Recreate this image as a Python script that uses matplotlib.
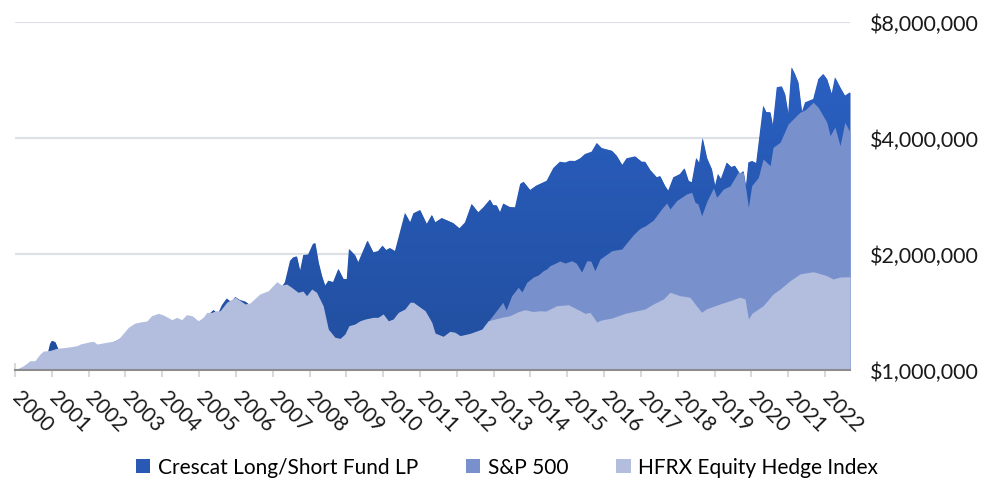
import matplotlib.pyplot as plt
import numpy as np
from matplotlib.patches import Patch
from matplotlib.colors import LinearSegmentedColormap
from matplotlib.ticker import NullLocator

plt.rcParams['font.family'] = ['Lato', 'DejaVu Sans']

# growth of $1,000,000 (values in $ millions), x in decimal years
crescat_x = [2000.00, 2000.08, 2000.27, 2000.49, 2000.68, 2000.84, 2000.95, 2001.00, 2001.09, 2001.17,
             2001.28, 2001.49, 2002.31, 2003.12, 2003.94, 2004.75, 2005.16, 2005.30, 2005.39, 2005.51,
             2005.62, 2005.75, 2005.87, 2005.98, 2006.11, 2006.25, 2006.38, 2006.65, 2006.93, 2007.20,
             2007.33, 2007.47, 2007.55, 2007.65, 2007.74, 2007.83, 2007.96, 2008.09, 2008.15, 2008.24,
             2008.33, 2008.42, 2008.51, 2008.64, 2008.78, 2008.92, 2009.01, 2009.07, 2009.23, 2009.32,
             2009.57, 2009.73, 2009.86, 2009.98, 2010.08, 2010.18, 2010.32, 2010.59, 2010.73, 2010.82,
             2011.00, 2011.18, 2011.32, 2011.41, 2011.59, 2011.90, 2012.07, 2012.22, 2012.40, 2012.58,
             2012.72, 2012.90, 2012.98, 2013.08, 2013.17, 2013.26, 2013.44, 2013.58, 2013.72, 2013.81,
             2013.99, 2014.15, 2014.35, 2014.44, 2014.62, 2014.80, 2014.94, 2015.07, 2015.21, 2015.35,
             2015.48, 2015.66, 2015.80, 2015.93, 2016.21, 2016.34, 2016.49, 2016.61, 2016.84, 2017.02,
             2017.11, 2017.25, 2017.43, 2017.52, 2017.65, 2017.74, 2017.88, 2018.06, 2018.18, 2018.29,
             2018.38, 2018.50, 2018.58, 2018.67, 2018.79, 2018.92, 2019.01, 2019.09, 2019.17, 2019.33,
             2019.45, 2019.55, 2019.69, 2019.78, 2019.85, 2019.92, 2020.02, 2020.13, 2020.32, 2020.40,
             2020.51, 2020.58, 2020.69, 2020.82, 2020.91, 2021.00, 2021.09, 2021.18, 2021.27, 2021.37,
             2021.46, 2021.68, 2021.82, 2021.95, 2022.05, 2022.18, 2022.27, 2022.41, 2022.54, 2022.68]
crescat_v = [1.000, 0.988, 0.982, 0.988, 1.006, 1.055, 1.168, 1.191, 1.182, 1.134,
             1.094, 1.120, 1.134, 1.240, 1.316, 1.316, 1.340, 1.405, 1.431, 1.398,
             1.474, 1.533, 1.501, 1.547, 1.519, 1.506, 1.474, 1.528, 1.584, 1.622,
             1.689, 1.921, 1.959, 1.973, 1.807, 1.988, 1.994, 2.123, 2.136, 1.903,
             1.757, 1.655, 1.705, 1.692, 1.829, 1.722, 1.722, 2.061, 1.988, 1.903,
             2.166, 2.020, 2.036, 2.102, 2.048, 2.073, 2.036, 2.555, 2.417, 2.551,
             2.601, 2.393, 2.525, 2.417, 2.480, 2.407, 2.332, 2.414, 2.697, 2.566,
             2.644, 2.770, 2.680, 2.675, 2.566, 2.704, 2.648, 2.644, 3.039, 3.080,
             2.932, 3.008, 3.070, 3.099, 3.343, 3.472, 3.455, 3.492, 3.487, 3.543,
             3.635, 3.686, 3.883, 3.768, 3.708, 3.599, 3.404, 3.543, 3.585, 3.472,
             3.472, 3.304, 3.163, 3.187, 3.008, 2.920, 3.163, 3.226, 3.338, 3.099,
             3.070, 3.550, 3.445, 4.000, 3.550, 3.324, 3.003, 3.226, 3.131, 3.455,
             3.364, 3.390, 3.226, 3.284, 2.985, 3.459, 3.487, 3.445, 4.850, 4.673,
             4.666, 4.305, 5.416, 5.449, 5.202, 4.618, 6.102, 5.864, 5.579, 4.666,
             4.951, 5.050, 5.692, 5.864, 5.692, 5.202, 5.749, 5.416, 5.151, 5.258]

sp500_x = [2000.00, 2000.50, 2001.00, 2001.70, 2002.50, 2002.80, 2003.50, 2004.00, 2005.00, 2006.00,
           2007.00, 2007.80, 2008.50, 2009.20, 2010.00, 2011.00, 2011.70, 2012.00, 2012.50, 2012.68,
           2012.90, 2013.04, 2013.25, 2013.34, 2013.49, 2013.67, 2013.77, 2013.90, 2014.08, 2014.21,
           2014.35, 2014.44, 2014.53, 2014.80, 2014.94, 2015.12, 2015.24, 2015.39, 2015.53, 2015.64,
           2015.75, 2015.89, 2016.21, 2016.48, 2016.61, 2016.79, 2016.97, 2017.11, 2017.34, 2017.56,
           2017.70, 2017.79, 2017.97, 2018.24, 2018.38, 2018.47, 2018.55, 2018.65, 2018.79, 2018.97,
           2019.06, 2019.24, 2019.42, 2019.64, 2019.78, 2019.87, 2019.92, 2020.01, 2020.19, 2020.32,
           2020.51, 2020.59, 2020.78, 2021.00, 2021.32, 2021.46, 2021.68, 2021.81, 2021.92, 2022.05,
           2022.14, 2022.27, 2022.41, 2022.54, 2022.68]
sp500_v = [1.000, 0.980, 0.920, 0.800, 0.700, 0.620, 0.750, 0.820, 0.900, 0.950,
           1.100, 1.150, 0.950, 0.580, 0.850, 0.980, 0.920, 1.050, 1.150, 1.250,
           1.356, 1.411, 1.499, 1.431, 1.559, 1.639, 1.594, 1.689, 1.743, 1.764,
           1.810, 1.829, 1.865, 1.918, 1.895, 1.921, 1.895, 1.796, 1.921, 1.918,
           1.810, 1.941, 2.040, 2.061, 2.136, 2.241, 2.329, 2.364, 2.450, 2.617,
           2.713, 2.617, 2.751, 2.862, 2.892, 2.724, 2.697, 2.514, 2.737, 2.967,
           2.807, 2.949, 3.003, 3.258, 3.258, 2.862, 2.644, 3.008, 3.163, 3.528,
           3.390, 3.784, 3.898, 4.350, 4.666, 4.729, 4.951, 4.813, 4.618, 4.394,
           4.055, 4.272, 3.820, 4.394, 4.138]

hfrx_x = [2000.00, 2000.23, 2000.41, 2000.54, 2000.68, 2000.77, 2000.95, 2001.13, 2001.40, 2001.68,
          2001.77, 2002.04, 2002.13, 2002.23, 2002.49, 2002.72, 2002.85, 2003.08, 2003.26, 2003.44,
          2003.58, 2003.71, 2003.89, 2004.03, 2004.26, 2004.39, 2004.53, 2004.66, 2004.81, 2004.98,
          2005.11, 2005.21, 2005.34, 2005.46, 2005.57, 2005.75, 2005.98, 2006.25, 2006.38, 2006.65,
          2006.88, 2007.11, 2007.24, 2007.38, 2007.51, 2007.69, 2007.82, 2007.92, 2008.06, 2008.19,
          2008.37, 2008.51, 2008.69, 2008.83, 2008.96, 2009.07, 2009.23, 2009.37, 2009.51, 2009.73,
          2009.86, 2010.00, 2010.14, 2010.27, 2010.41, 2010.59, 2010.73, 2010.82, 2010.95, 2011.14,
          2011.32, 2011.41, 2011.63, 2011.81, 2011.95, 2012.09, 2012.36, 2012.68, 2012.85, 2013.04,
          2013.22, 2013.44, 2013.67, 2013.85, 2014.07, 2014.26, 2014.42, 2014.71, 2015.03, 2015.35,
          2015.48, 2015.62, 2015.80, 2015.92, 2016.21, 2016.57, 2016.89, 2017.11, 2017.34, 2017.61,
          2017.79, 2018.06, 2018.33, 2018.51, 2018.65, 2018.77, 2019.15, 2019.42, 2019.69, 2019.83,
          2019.92, 2020.02, 2020.32, 2020.59, 2020.78, 2021.05, 2021.32, 2021.46, 2021.68, 2021.81,
          2022.05, 2022.22, 2022.41, 2022.68]
hfrx_v = [1.000, 1.026, 1.057, 1.057, 1.100, 1.120, 1.124, 1.138, 1.145, 1.156,
          1.168, 1.184, 1.187, 1.168, 1.180, 1.191, 1.216, 1.291, 1.324, 1.334,
          1.340, 1.383, 1.403, 1.389, 1.351, 1.370, 1.351, 1.392, 1.383, 1.342,
          1.370, 1.411, 1.411, 1.425, 1.425, 1.499, 1.545, 1.484, 1.492, 1.575,
          1.606, 1.695, 1.662, 1.671, 1.639, 1.591, 1.603, 1.559, 1.622, 1.591,
          1.468, 1.277, 1.216, 1.208, 1.240, 1.303, 1.316, 1.342, 1.356, 1.370,
          1.370, 1.398, 1.342, 1.356, 1.411, 1.440, 1.499, 1.499, 1.468, 1.425,
          1.330, 1.247, 1.223, 1.260, 1.253, 1.228, 1.245, 1.277, 1.342, 1.356,
          1.370, 1.383, 1.417, 1.434, 1.418, 1.425, 1.422, 1.468, 1.477, 1.425,
          1.403, 1.411, 1.332, 1.348, 1.364, 1.403, 1.425, 1.440, 1.484, 1.528,
          1.591, 1.559, 1.545, 1.468, 1.411, 1.440, 1.484, 1.513, 1.545, 1.528,
          1.356, 1.405, 1.468, 1.575, 1.622, 1.705, 1.775, 1.785, 1.799, 1.785,
          1.757, 1.722, 1.743, 1.746]

years = list(range(2000, 2023))
y_ticks = [1, 2, 4, 8]
y_labels = ['$1,000,000', '$2,000,000', '$4,000,000', '$8,000,000']
names = ['Crescat Long/Short Fund LP', 'S&P 500', 'HFRX Equity Hedge Index']
colors = ['#2A59B5', '#7891CD', '#B3BEDF']

fig = plt.figure(figsize=(9.84, 4.81), dpi=100)
ax = fig.add_axes([15 / 984, 110 / 481, 835 / 984, 348 / 481])
ax.set_yscale('log', base=2)

# Crescat area with a soft vertical gradient (darker at the bottom)
cres = ax.fill_between(crescat_x, 1, crescat_v, color=colors[0], lw=0, zorder=2)
grad = LinearSegmentedColormap.from_list('cres', ['#214E9E', '#2C63C8'])
img = ax.imshow(np.linspace(0, 1, 256).reshape(-1, 1), cmap=grad, origin='lower',
                extent=[0, 1, 0, 1], transform=ax.transAxes, aspect='auto', zorder=2.1)
img.set_clip_path(cres.get_paths()[0], transform=ax.transData)

ax.fill_between(sp500_x, 1, sp500_v, color=colors[1], lw=0, zorder=3)
ax.fill_between(hfrx_x, 1, hfrx_v, color=colors[2], lw=0, zorder=4)

ax.set_xlim(2000, 2022.68)
ax.set_ylim(1, 8)

ax.yaxis.tick_right()
ax.set_yticks(y_ticks)
ax.set_yticklabels(y_labels)
ax.yaxis.set_minor_locator(NullLocator())
ax.tick_params(axis='y', length=0, pad=14, labelsize=15.5, labelcolor='#1a1a1a')
ax.grid(axis='y', color='#DDE0E6', lw=1.5, zorder=0)
ax.set_axisbelow(True)

ax.set_xticks(years)
ax.set_xticklabels([str(y) for y in years], rotation=-45, ha='left', va='center',
                   rotation_mode='anchor')
ax.tick_params(axis='x', direction='inout', length=10, width=1.5, color='#D9D9D9',
               pad=12, labelsize=15, labelcolor='#1a1a1a')

for s in ['top', 'left', 'right']:
    ax.spines[s].set_visible(False)
ax.spines['bottom'].set_color('#8C8C8C')
ax.spines['bottom'].set_linewidth(1.5)
ax.spines['bottom'].set_zorder(5)

handles = [Patch(facecolor=c, edgecolor='none') for c in colors]
fig.legend(handles, names, loc='center', bbox_to_anchor=(0.515, 0.026), ncol=3,
           frameon=False, fontsize=15, handlelength=0.7, handleheight=0.7,
           handletextpad=0.35, columnspacing=2.3)

fig.savefig('out.png', dpi=100)
